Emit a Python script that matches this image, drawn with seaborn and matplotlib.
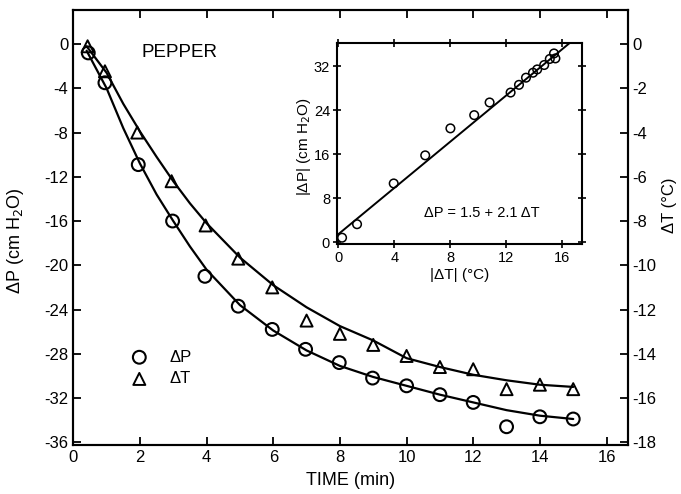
import matplotlib
matplotlib.use('Agg')
import matplotlib.pyplot as plt
import seaborn as sns
import pandas as pd

# measured points (main panel)
time_pts = [0.45, 0.95, 1.95, 2.98, 3.95, 4.95, 5.97, 6.97, 7.98, 8.98, 10, 11, 12, 13, 14, 15]
dP_pts = [-0.8, -3.5, -10.9, -16.0, -21.0, -23.7, -25.8, -27.6, -28.8, -30.2, -30.9, -31.7, -32.4, -34.6, -33.7, -33.9]
time_tri = [0.43, 0.95, 1.92, 2.95, 3.97, 4.95, 5.97, 7.0, 8.0, 9.0, 10, 11, 12, 13, 14, 15]
dT_pts = [-0.1, -1.23, -4.0, -6.2, -8.2, -9.7, -11.0, -12.5, -13.1, -13.6, -14.1, -14.6, -14.7, -15.6, -15.4, -15.6]

# fitted curves
curve_t = [0.4, 1, 1.5, 2, 2.5, 3, 3.5, 4, 5, 6, 7, 8, 9, 10, 11, 12, 13, 14, 15]
curve_dP = [-0.6, -4.0, -7.6, -10.8, -13.6, -16.0, -18.3, -20.4, -23.6, -25.9, -27.7, -29.1, -30.1,
            -30.9, -31.7, -32.4, -33.1, -33.6, -33.9]
curve_dT = [-0.1, -1.3, -2.7, -3.95, -5.1, -6.2, -7.2, -8.1, -9.65, -10.9, -11.9, -12.75, -13.4,
            -14.2, -14.6, -14.95, -15.2, -15.4, -15.5]

# inset: |dT| vs |dP|
inset_dT = [0.26, 1.33, 3.95, 6.2, 8.0, 9.7, 10.8, 12.3, 12.9, 13.4, 13.9, 14.2, 14.7, 15.1, 15.4, 15.5]
inset_dP = [0.85, 3.3, 10.7, 15.8, 20.7, 23.1, 25.4, 27.2, 28.6, 29.9, 30.8, 31.4, 32.2, 33.3, 34.3, 33.4]
fit_dT = [0, 16.5]
fit_dP = [1.5, 36.15]

sns.set_style('ticks')
plt.rcParams['font.family'] = ['Liberation Sans', 'DejaVu Sans']
plt.rcParams['axes.linewidth'] = 1.5
plt.rcParams['axes.unicode_minus'] = False
for k in ('text.color', 'axes.labelcolor', 'xtick.color', 'ytick.color', 'axes.edgecolor'):
    plt.rcParams[k] = 'black'

fig = plt.figure(figsize=(6.81, 4.94), dpi=100)
ax = fig.add_axes([0.1076, 0.0992, 0.8144, 0.881])
ax2 = ax.twinx()

ymin, ymax = -36.25, 3.1
ax.set_xlim(0, 16.64)
ax.set_ylim(ymin, ymax)
ax2.set_ylim(ymin / 2, ymax / 2)

sns.lineplot(x=curve_t, y=curve_dP, ax=ax, color='black', lw=1.6, sort=False)
sns.lineplot(x=curve_t, y=curve_dT, ax=ax2, color='black', lw=1.6, sort=False)

sns.scatterplot(x=time_pts, y=dP_pts, ax=ax, marker='o', s=85, facecolor='none',
                edgecolor='black', linewidth=1.5, label='ΔP', zorder=3)
sns.scatterplot(x=time_tri, y=dT_pts, ax=ax2, marker='^', s=75, facecolor='none',
                edgecolor='black', linewidth=1.4, label='ΔT', zorder=3)

ax.set_xticks(range(0, 17, 2))
ax.set_yticks(range(0, -37, -4))
ax2.set_yticks(range(0, -19, -2))
ax.tick_params(axis='both', direction='in', length=6, width=1.3, labelsize=12, top=True)
ax2.tick_params(axis='y', direction='in', length=6, width=1.3, labelsize=12)

ax.set_xlabel('TIME (min)', fontsize=13)
ax.xaxis.set_label_coords(0.5, -0.062)
ax.set_ylabel('ΔP (cm H$_2$O)', fontsize=13)
ax.yaxis.set_label_coords(-0.085, 0.47)
ax2.set_ylabel('ΔT (°C)', fontsize=12)
ax2.yaxis.set_label_coords(1.062, 0.55)

ax.text(2.05, -0.77, 'PEPPER', fontsize=13.5, va='center', ha='left')

h1, l1 = ax.get_legend_handles_labels()
h2, l2 = ax2.get_legend_handles_labels()
ax2.get_legend().remove()
ax.legend(h1 + h2, l1 + l2, loc='center left', bbox_to_anchor=(0.077, 0.177), frameon=False,
          fontsize=12, handletextpad=0.8, labelspacing=0.4, borderaxespad=0)

for a in (ax, ax2):
    for s in a.spines.values():
        s.set_linewidth(1.5)

# inset
axin = fig.add_axes([0.4949, 0.506, 0.3597, 0.407])
inset_df = pd.DataFrame({'dT': inset_dT, 'dP': inset_dP})
sns.lineplot(x=fit_dT, y=fit_dP, ax=axin, color='black', lw=1.4)
sns.scatterplot(data=inset_df, x='dT', y='dP', ax=axin, marker='o', s=38, facecolor='none',
                edgecolor='black', linewidth=1.1, zorder=3)
axin.set_xlim(-0.1, 17.4)
axin.set_ylim(-0.3, 36.2)
axin.set_xticks(range(0, 17, 4))
axin.set_yticks(range(0, 33, 8))
axin.tick_params(axis='both', direction='inout', length=6, width=1.2, labelsize=10.5,
                 top=True, right=True, pad=2)
axin.set_xlabel('|ΔT| (°C)', fontsize=11)
axin.xaxis.set_label_coords(0.5, -0.12)
axin.set_ylabel('|ΔP| (cm H$_2$O)', fontsize=11)
axin.yaxis.set_label_coords(-0.1, 0.483)
axin.text(6.1, 5.3, 'ΔP = 1.5 + 2.1 ΔT', fontsize=10.5, va='center', ha='left')
for s in axin.spines.values():
    s.set_linewidth(1.5)

fig.savefig('out.png', dpi=100)
